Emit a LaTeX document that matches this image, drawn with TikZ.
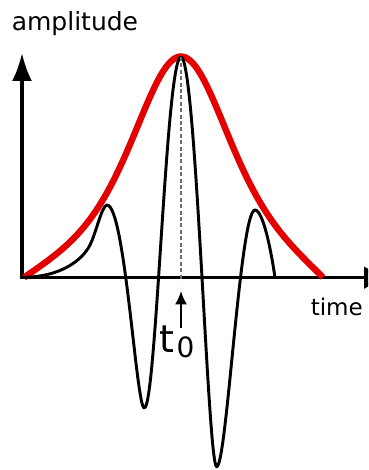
\documentclass[tikz,border=0pt]{standalone}
\usepackage{fontspec}
\setmainfont{DejaVu Sans}
\usetikzlibrary{arrows.meta}
\definecolor{envred}{RGB}{228,0,0}
\definecolor{dashgray}{RGB}{110,110,110}
\begin{document}
\begin{tikzpicture}[x=0.75pt,y=-0.75pt,
  axis/.style={line width=2.5pt, black},
  envelope/.style={line width=4.8pt, envred, line join=round},
  wave/.style={line width=2.2pt, black, line join=round},
  centerline/.style={line width=2pt, dashgray, dash pattern=on 3pt off 1.8pt},
  pointer/.style={line width=1.5pt, black, -{Latex[length=10pt, width=9pt]}},
  lbl/.style={inner sep=0pt, anchor=base west, text=black}]
\useasboundingbox (0,0) rectangle (368,470);
\clip (0,0) rectangle (368,470);

% axes
\coordinate (O) at (22,277.7);
\coordinate (ytip) at (22,53);
\coordinate (xtip) at (392,277.7);
\draw[axis, {Latex[length=21pt, width=15pt]}-{Latex[length=21pt, width=17pt]}] (ytip) -- (O) -- (xtip);

% envelope (bell curve, slightly longer tail on the left)
\draw[envelope]
  plot[domain=-157:0, samples=90, smooth]
    ({181+\x}, {277.5 - (221/((1+(\x/95)*(\x/95))*(1+(\x/95)*(\x/95))) - 15.9*(\x/157)*(\x/157)*(\x/157)*(\x/157))})
  -- plot[domain=0:142, samples=80, smooth]
    ({181+\x}, {277.5 - (221/((1+(\x/95)*(\x/95))*(1+(\x/95)*(\x/95))) - 21.1*(\x/142)*(\x/142)*(\x/142)*(\x/142))});

% wave
\draw[wave] (22,277.3) .. controls (62,277.3) and (83,259) .. (90,245)
  .. controls (96,233) and (102,205) .. (107,205)
  .. controls (125,205) and (136.3,408) .. (144.3,408)
  .. controls (156.3,408) and (166,57) .. (181,57)
  .. controls (196,57) and (207.7,466.7) .. (216.7,466.7)
  .. controls (226.7,466.7) and (240,210) .. (255,210)
  .. controls (263,210) and (271,250) .. (275,277.5);

% t0 marker
\coordinate (peak) at (181,57);
\coordinate (foot) at (181,281);
\draw[centerline] (peak) -- (foot);
\coordinate (ptail) at (181,328);
\coordinate (phead) at (181,291);
\draw[pointer] (ptail) -- (phead);

% labels
\node[lbl, font=\fontsize{18.75}{22}\selectfont] (amp) at (11.5,31) {amplitude};
\node[lbl, font=\fontsize{17.25}{20}\selectfont] (time) at (310.5,315) {time};
\node[lbl] (tzero) at (159.5,352) {\fontsize{28.5}{30}\selectfont t\kern1.5pt\raisebox{-3.75pt}{\fontsize{21}{22}\selectfont 0}};
\end{tikzpicture}
\end{document}
